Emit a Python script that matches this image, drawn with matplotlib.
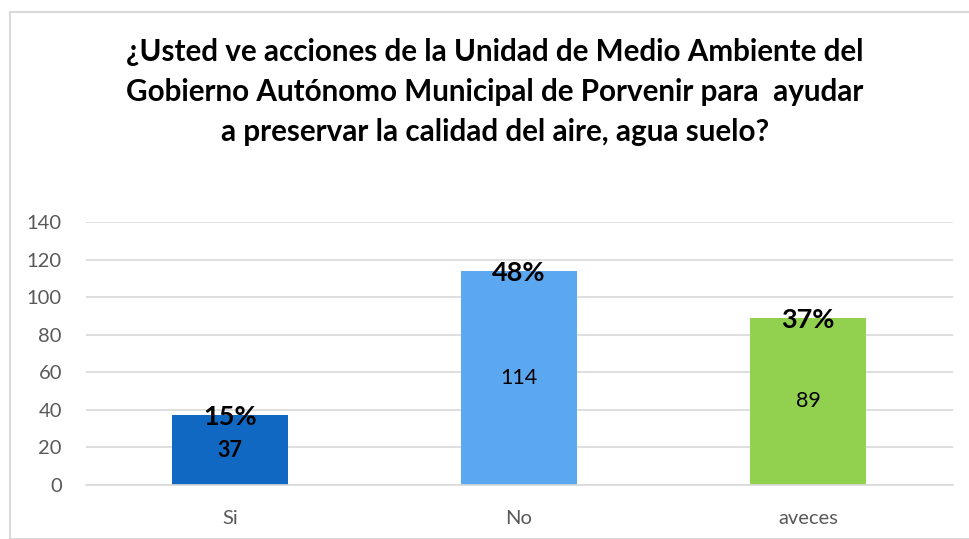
import matplotlib.pyplot as plt
from matplotlib.patches import Rectangle

categorias = ['Si', 'No', 'aveces']
valores = [37, 114, 89]
porcentajes = ['15%', '48%', '37%']
colores = ['#1068C2', '#5BA8F0', '#92D050']
titulo = ('¿Usted ve acciones de la Unidad de Medio Ambiente del\n'
          'Gobierno Autónomo Municipal de Porvenir para  ayudar\n'
          'a preservar la calidad del aire, agua suelo?')

W, H = 969, 539
plt.rcParams['font.family'] = ['Lato', 'DejaVu Sans']
fig = plt.figure(figsize=(W / 100, H / 100), dpi=100)

# marco del gráfico
fig.patches.append(Rectangle((10 / W, 0), (W + 20) / W, 1 - 12 / H,
                             transform=fig.transFigure, fill=False,
                             edgecolor='#D9D9D9', linewidth=1.5))

ax = fig.add_axes([85.5 / W, 1 - 485 / H, (952.5 - 85.5) / W, (485 - 222) / H])
x = range(len(categorias))
ax.bar(x, valores, width=0.4, color=colores, zorder=2)
ax.set_xlim(-0.5, 2.5)
ax.set_ylim(0, 140)
ax.set_yticks(range(0, 141, 20))
ax.set_xticks(list(x))
ax.set_xticklabels(categorias)
ax.grid(axis='y', color='#D9D9D9', linewidth=1.2, zorder=0)
for s in ax.spines.values():
    s.set_visible(False)
ax.spines['bottom'].set_visible(True)
ax.spines['bottom'].set_color('#D9D9D9')
ax.spines['bottom'].set_linewidth(1.2)
ax.tick_params(length=0, labelsize=14.5, labelcolor='#595959')
ax.tick_params(axis='y', pad=17)
ax.tick_params(axis='x', pad=18)

for i, (v, p) in enumerate(zip(valores, porcentajes)):
    ax.text(i, v - 1, p, ha='center', va='center', fontsize=19.5,
            fontweight='bold', color='black', zorder=3)
    ax.text(i, v / 2, str(v), ha='center', va='center', fontsize=15.5,
            fontweight='bold' if i == 0 else 'normal', color='black', zorder=3)

fig.text(495 / W, 1 - 92 / H, titulo, ha='center', va='center', fontsize=21.3,
         fontweight='bold', color='black', linespacing=1.52)

fig.savefig('out.png', dpi=100)
